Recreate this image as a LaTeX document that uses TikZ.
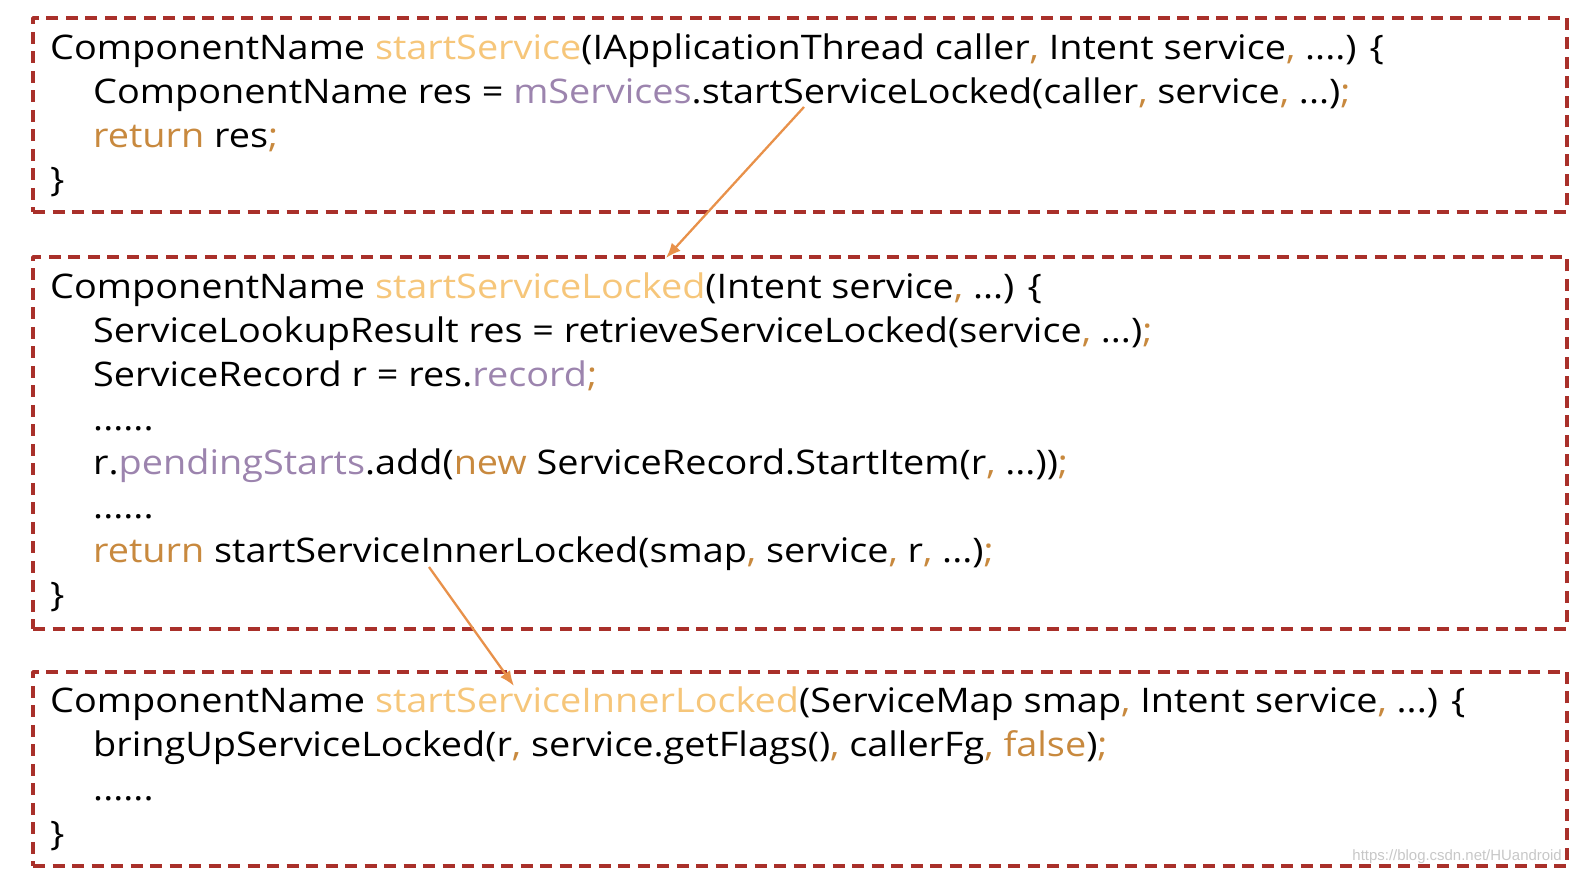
\documentclass[tikz,border=0pt]{standalone}
\usepackage{fontspec}
\setmainfont{Open Sans}[FakeStretch=1.117]
\newfontfamily\markfont{Liberation Sans}
\usetikzlibrary{arrows.meta}
\definecolor{boxred}{HTML}{A9302A}
\definecolor{fnname}{HTML}{F6C67A}
\definecolor{kwcol}{HTML}{C8893E}
\definecolor{fieldcol}{HTML}{9C84AE}
\definecolor{arrowcol}{HTML}{E8914A}
\newcommand{\fn}[1]{\textcolor{fnname}{#1}}
\newcommand{\kw}[1]{\textcolor{kwcol}{#1}}
\newcommand{\fd}[1]{\textcolor{fieldcol}{#1}}
\tikzset{
  codeline/.style={anchor=base west,inner sep=0pt,font=\fontsize{34}{40}\selectfont},
  codebox/.style={draw=boxred,line width=3.5pt,dash pattern=on 12bp off 7.5bp,inner sep=0pt},
  callflow/.style={draw=arrowcol,line width=2.3pt,-{Latex[length=15bp,width=12bp]}},
}
\begin{document}
\begin{tikzpicture}[>=latex,line join=bevel,]
\useasboundingbox (0bp,0bp) rectangle (1576bp,874bp);
%%
\node (box1) at (800bp,759bp) [codebox,minimum width=1534bp,minimum height=194bp] {};
  \node (box2) at (800bp,431bp) [codebox,minimum width=1534bp,minimum height=372bp] {};
  \node (box3) at (800bp,105bp) [codebox,minimum width=1534bp,minimum height=194bp] {};
%
\node (b1l1) at (50bp,814bp) [codeline] {ComponentName \fn{startService}(IApplicationThread caller\kw{,} Intent service\kw{,} ....) \{};
  \node (b1l2) at (93bp,770bp) [codeline] {ComponentName res = \fd{mServices}.startServiceLocked(caller\kw{,} service\kw{,} ...)\kw{;}};
  \node (b1l3) at (93bp,726bp) [codeline] {\kw{return} res\kw{;}};
  \node (b1l4) at (50bp,682bp) [codeline] {\}};
%
\node (b2l1) at (50bp,575bp) [codeline] {ComponentName \fn{startServiceLocked}(Intent service\kw{,} ...) \{};
  \node (b2l2) at (93bp,531bp) [codeline] {ServiceLookupResult res = retrieveServiceLocked(service\kw{,} ...)\kw{;}};
  \node (b2l3) at (93bp,487bp) [codeline] {ServiceRecord r = res.\fd{record}\kw{;}};
  \node (b2l4) at (93bp,443bp) [codeline] {......};
  \node (b2l5) at (93bp,399bp) [codeline] {r.\fd{pendingStarts}.add(\kw{new} ServiceRecord.StartItem(r\kw{,} ...))\kw{;}};
  \node (b2l6) at (93bp,355bp) [codeline] {......};
  \node (b2l7) at (93bp,311bp) [codeline] {\kw{return} startServiceInnerLocked(smap\kw{,} service\kw{,} r\kw{,} ...)\kw{;}};
  \node (b2l8) at (50bp,267bp) [codeline] {\}};
%
\node (b3l1) at (50bp,161bp) [codeline] {ComponentName \fn{startServiceInnerLocked}(ServiceMap smap\kw{,} Intent service\kw{,} ...) \{};
  \node (b3l2) at (93bp,117bp) [codeline] {bringUpServiceLocked(r\kw{,} service.getFlags()\kw{,} callerFg\kw{,} \kw{false})\kw{;}};
  \node (b3l3) at (93bp,73bp) [codeline] {......};
  \node (b3l4) at (50bp,29bp) [codeline] {\}};
%
\node (mark) at (1562bp,14bp) [anchor=base east,inner sep=0pt,font=\markfont\fontsize{15}{18}\selectfont,text=black!22] {https://blog.csdn.net/HUandroid};
%
\coordinate (call1) at (804bp,767bp);
  \coordinate (call1end) at (666bp,616bp);
  \coordinate (call2) at (429bp,307bp);
  \coordinate (call2end) at (514bp,188bp);
  \draw [callflow] (call1) -- (call1end);
  \draw [callflow] (call2) -- (call2end);
%
\end{tikzpicture}
\end{document}
